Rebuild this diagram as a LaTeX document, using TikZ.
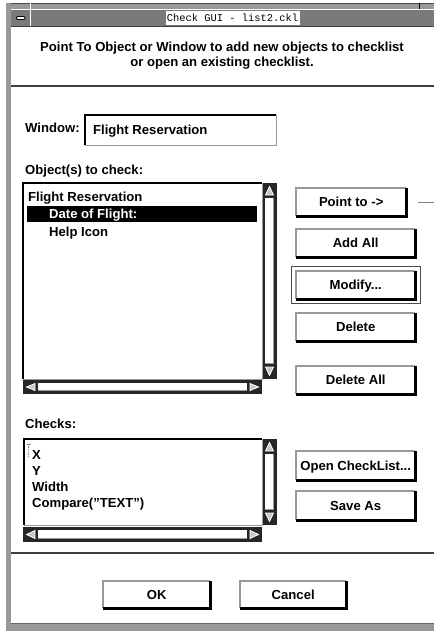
\documentclass[tikz,border=0pt]{standalone}
\usepackage{fontspec}
\setmainfont{Liberation Sans}
\newfontfamily\titlefont{Liberation Mono}
\definecolor{stip}{gray}{0.6}
\definecolor{tbar}{gray}{0.48}
\definecolor{trough}{gray}{0.15}
\newcommand\myvscroll[4]{%
  \fill[trough] (#1,#2) rectangle (#3,#4);
  \fill[white] ({#1+3},{#2+15}) rectangle ({#3-3},{#4-15});
  \draw[stip,line width=1pt] ({#3-3.5},{#2+15}) -- ({#3-3.5},{#4-15.5}) -- ({#1+3},{#4-15.5});
  \filldraw[fill=gray!45,draw=white,line width=0.8pt] ({#1+3.5},{#2+12}) -- ({#3-3.5},{#2+12}) -- ({(#1+#3)/2},{#2+3.5}) -- cycle;
  \filldraw[fill=gray!45,draw=white,line width=0.8pt] ({#1+3.5},{#4-12}) -- ({#3-3.5},{#4-12}) -- ({(#1+#3)/2},{#4-3.5}) -- cycle;
}
\newcommand\myhscroll[4]{%
  \fill[trough] (#1,#2) rectangle (#3,#4);
  \fill[white] ({#1+15},{#2+3}) rectangle ({#3-15},{#4-3});
  \draw[stip,line width=1pt] ({#3-15},{#4-3.5}) -- ({#1+15},{#4-3.5});
  \filldraw[fill=gray!45,draw=white,line width=0.8pt] ({#1+12},{#2+3.5}) -- ({#1+12},{#4-3.5}) -- ({#1+3.5},{(#2+#4)/2}) -- cycle;
  \filldraw[fill=gray!45,draw=white,line width=0.8pt] ({#3-12},{#2+3.5}) -- ({#3-12},{#4-3.5}) -- ({#3-3.5},{(#2+#4)/2}) -- cycle;
}
\begin{document}
\begin{tikzpicture}[x=1pt,y=-1pt,
  ui/.style={font=\fontsize{13.1}{15}\selectfont\bfseries, inner sep=0pt},
  lbl/.style={ui, anchor=base west},
  btn/.style={ui, fill=white, anchor=north west, text height=9.4pt, text depth=0pt},
  box/.style={fill=white, anchor=north west, inner sep=0pt},
  hi/.style={draw=stip, line width=1.3pt},
  lo/.style={draw=black, line width=2.4pt},
  sep/.style={draw=black!75, line width=1.3pt}]
\useasboundingbox (0,0) rectangle (434,631);
\fill[white] (0,0) rectangle (434,631);
% window frame
\fill[stip] (6,3) rectangle (434,9);
\draw[black!70, line width=0.8pt] (6,3.4) -- (434,3.4);
\draw[black, line width=1pt] (419,3) -- (419,9);
\draw[white, line width=1pt] (11,9.5) -- (434,9.5);
\fill[tbar] (11,10) rectangle (434,26);
\draw[black!75, line width=1pt] (11,26.5) -- (434,26.5);
\fill[stip] (6,3) rectangle (11,631);
\draw[white, line width=1pt] (30,3) -- (30,26);
\filldraw[fill=white, draw=black, line width=0.8pt, rounded corners=1pt] (16.5,16.5) rectangle (25,19.5);
\node[fill=white, inner sep=0pt, minimum width=134pt, minimum height=14pt,
      font=\titlefont\fontsize{10.4}{12}\selectfont, text height=7pt, text depth=0pt] (title) at (232.5,18) {Check GUI - list2.ckl};
\fill[stip] (11,623) rectangle (434,631);
\draw[black!60, line width=0.8pt] (11,623) -- (434,623);
% heading
\node[ui, anchor=base] (h1) at (222,51.6) {Point To Object or Window to add new objects to checklist};
\node[ui, anchor=base] (h2) at (222,66.6) {or open an existing checklist.};
\draw[sep] (11,86) -- (434,86);
% window field
\node[lbl] (winlbl) at (25,133) {Window:};
\node[box, minimum width=191pt, minimum height=30pt] (win) at (85,115) {};
\node[lbl] (wintxt) at (93,135) {Flight Reservation};
% object list
\node[lbl] (objlbl) at (25,175) {Object(s) to check:};
\node[box, minimum width=239pt, minimum height=196pt] (l1) at (23,183) {};
\fill[black] (27,206) rectangle (257,222);
\node[lbl] (i1) at (28,201.5) {Flight Reservation};
\node[lbl, text=white] (i2) at (49,218.5) {Date of Flight:};
\node[lbl] (i3) at (49,236.5) {Help Icon};
\myvscroll{262}{183}{277}{379}
\myhscroll{23}{380}{262}{394}
% checks list
\node[lbl] (chk) at (25,428) {Checks:};
\node[box, minimum width=238pt, minimum height=86pt] (l2) at (24,439) {};
\draw[gray, densely dotted, line width=0.7pt] (28.5,444) -- (28.5,457) (27,444.5) -- (31,444.5);
\node[lbl] (c1) at (32,459.5) {X};
\node[lbl] (c2) at (32,475) {Y};
\node[lbl] (c3) at (32,491.5) {Width};
\node[lbl] (c4) at (32,507.5) {Compare("TEXT")};
\myvscroll{262}{439}{277}{525}
\myhscroll{23}{527}{262}{542}
\foreach \b in {win,l1,l2}{
  \draw[hi] (\b.south west) -- (\b.south east) -- (\b.north east);
  \draw[lo] (\b.south west) -- (\b.north west) -- (\b.north east);
}
% buttons
\node[btn, minimum width=110pt, minimum height=28pt] (pt) at (296,188) {Point to ->};
\node[btn, minimum width=119pt, minimum height=28pt] (aa) at (296,229) {Add All};
\node[btn, minimum width=119pt, minimum height=28pt] (mod) at (296,271) {Modify...};
\node[btn, minimum width=119pt, minimum height=28pt] (del) at (296,313) {Delete};
\node[btn, minimum width=119pt, minimum height=28pt] (dall) at (296,366) {Delete All};
\node[btn, minimum width=119pt, minimum height=29pt] (open) at (296,451) {Open CheckList...};
\node[btn, minimum width=119pt, minimum height=29pt] (save) at (296,491) {Save As};
\node[btn, minimum width=107pt, minimum height=27pt] (ok) at (103,581) {OK};
\node[btn, minimum width=106pt, minimum height=27pt] (cancel) at (240,581) {Cancel};
\foreach \b in {pt,aa,mod,del,dall,open,save,ok,cancel}{
  \draw[hi] (\b.south west) -- (\b.north west) -- (\b.north east);
  \draw[lo] (\b.south west) -- (\b.south east) -- (\b.north east);
}
\draw[black!70, line width=0.9pt] ([shift={(-5pt,4.5pt)}]mod.north west) rectangle ([shift={(5pt,-4.5pt)}]mod.south east);
\coordinate (ptend) at (434,202);
\draw[gray, line width=0.9pt] ([xshift=12pt]pt.east) -- (pt.east -| ptend);
\draw[sep] (11,553) -- (434,553);
\end{tikzpicture}
\end{document}
